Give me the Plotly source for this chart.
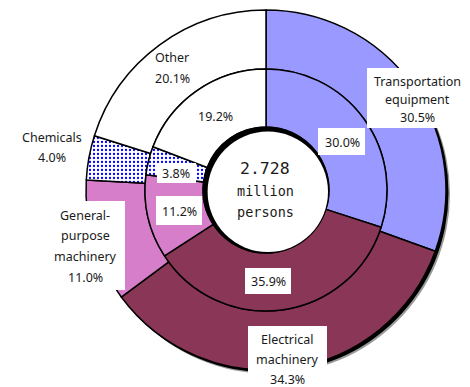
import plotly.graph_objects as go

W, H = 470, 387

# ---- data ----
categories = ["Transportation equipment", "Electrical machinery",
              "General-purpose machinery", "Chemicals", "Other"]
outer_values = [30.5, 34.3, 11.0, 4.0, 20.1]   # outer ring (%)
inner_values = [30.0, 35.9, 11.2, 3.8, 19.2]   # inner ring (%)
center_lines = ["2.728", "million", "persons"]

colors = ["#9999FF", "#8A3656", "#D67ECA", "#FFFFFF", "#FFFFFF"]
patterns = ["", "", "", ".", ""]

# geometry (pixels, origin top-left)
CX, CY = 266, 190
R_OUT, R_MID, R_IN = 180, 121, 63


def px(x, y):
    return x / W, 1 - y / H


def dom(r):
    x0, y1 = px(CX - r, CY - r)
    x1, y0 = px(CX + r, CY + r)
    return dict(x=[x0, x1], y=[y0, y1])


pattern = dict(shape=patterns, fgcolor="#0000FF", bgcolor="#FFFFFF",
               size=4, solidity=0.25)

fig = go.Figure()
fig.add_trace(go.Pie(
    labels=categories, values=outer_values, sort=False, direction="clockwise",
    rotation=0, hole=R_MID / R_OUT, domain=dom(R_OUT), textinfo="none",
    hoverinfo="label+value", showlegend=False,
    marker=dict(colors=colors, line=dict(color="black", width=1.5), pattern=pattern),
))
fig.add_trace(go.Pie(
    labels=categories, values=inner_values, sort=False, direction="clockwise",
    rotation=0, hole=R_IN / R_MID, domain=dom(R_MID), textinfo="none",
    hoverinfo="label+value", showlegend=False,
    marker=dict(colors=colors, line=dict(color="black", width=1.5), pattern=pattern),
))

shapes = []


def circle(cx, cy, r, fill, layer):
    x0, y1 = px(cx - r, cy - r)
    x1, y0 = px(cx + r, cy + r)
    shapes.append(dict(type="circle", xref="paper", yref="paper",
                       x0=x0, x1=x1, y0=y0, y1=y1, fillcolor=fill,
                       line=dict(width=0), layer=layer))


def rect(xa, ya, xb, yb):
    x0, y1 = px(xa, ya)
    x1, y0 = px(xb, yb)
    shapes.append(dict(type="rect", xref="paper", yref="paper",
                       x0=x0, x1=x1, y0=y0, y1=y1, fillcolor="white",
                       line=dict(width=0), layer="above"))


# drop shadow of the outer ring
circle(CX + 4, CY + 4, R_OUT, "#9a9a9a", "below")
circle(CX + 2.5, CY + 2.5, R_OUT, "#000000", "below")
# inner shadow inside the hole
circle(CX, CY, R_IN + 0.5, "#000000", "above")
circle(CX + 1.8, CY + 1.8, R_IN - 2.8, "#FFFFFF", "above")

# white label boxes
rect(367, 68, 463, 128)     # Transportation equipment
rect(248, 326, 327, 390)    # Electrical machinery
rect(43, 201, 125, 290)     # General-purpose machinery
rect(318, 128, 365, 155)    # 30.0%
rect(245, 268, 291, 294)    # 35.9%
rect(156, 196, 202, 225)    # 11.2%
rect(157, 163, 196, 183)    # 3.8%

annotations = []
FONT = "Noto Sans, Liberation Sans, Arial, sans-serif"
TXT = "#1a1a1a"


def text_lines(lines, x, y0, dy, size=12.5, family=FONT):
    for i, t in enumerate(lines):
        xx, yy = px(x, y0 + i * dy)
        annotations.append(dict(text=t, x=xx, y=yy, xref="paper", yref="paper",
                                xanchor="center", yanchor="middle", showarrow=False,
                                font=dict(family=family, size=size, color=TXT)))


def pct(v):
    return f"{v:.1f}%"


# outer labels
text_lines(["Transportation", "equipment", pct(outer_values[0])], 417, 81, 18.5)
text_lines(["Electrical", "machinery", pct(outer_values[1])], 287, 339, 20)
text_lines(["General-", "purpose", "machinery", pct(outer_values[2])], 85, 215, 20.7)
text_lines(["Chemicals", pct(outer_values[3])], 52, 137, 20)
text_lines(["Other", pct(outer_values[4])], 172, 57, 21)

# inner labels
text_lines([pct(inner_values[0])], 342, 142, 0)
text_lines([pct(inner_values[1])], 268, 281, 0)
text_lines([pct(inner_values[2])], 179, 211, 0)
text_lines([pct(inner_values[3])], 176, 173, 0)
text_lines([pct(inner_values[4])], 215, 116, 0)

# centre
MONO = "DejaVu Sans Mono, Liberation Mono, monospace"
text_lines([center_lines[0]], 265, 168, 0, size=16.5, family=MONO)
text_lines(center_lines[1:], 265, 191, 21, size=13.5, family=MONO)

fig.update_layout(
    width=W, height=H, margin=dict(l=0, r=0, t=0, b=0),
    paper_bgcolor="white", plot_bgcolor="white",
    shapes=shapes, annotations=annotations, showlegend=False,
)

fig.write_html(
    "out.html",
    config={"displayModeBar": False},
    post_script="document.body.style.margin='0';document.body.style.overflow='hidden';",
)
